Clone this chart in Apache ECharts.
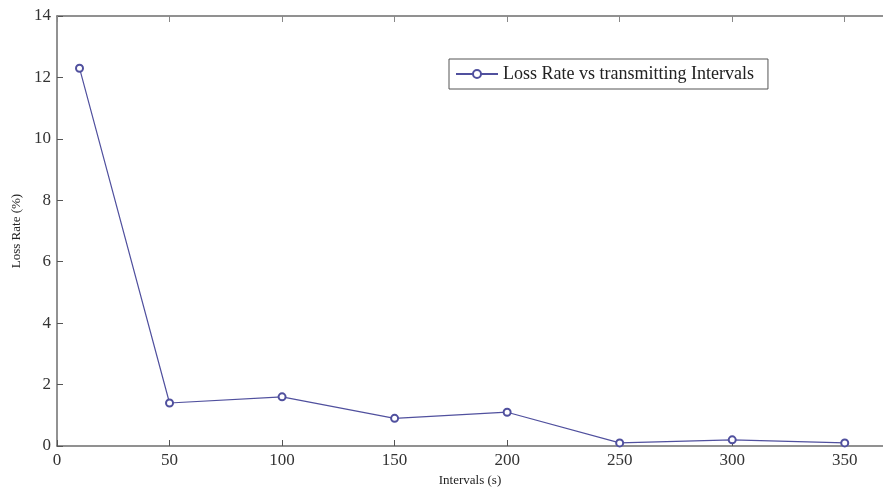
<!DOCTYPE html>
<html>
<head>
<meta charset="utf-8">
<script src="https://cdn.jsdelivr.net/npm/echarts@6/dist/echarts.min.js"></script>
<style>
  html, body { margin: 0; padding: 0; background: #fff; }
  #chart { width: 883px; height: 490px; }
</style>
</head>
<body>
<div id="chart"></div>
<script>
const intervals = [10, 50, 100, 150, 200, 250, 300, 350]
const lossRate = [12.3, 1.4, 1.6, 0.9, 1.1, 0.1, 0.2, 0.1]
const seriesName = "Loss Rate vs transmitting Intervals"

const font = "'Liberation Serif', 'DejaVu Serif', serif"
const axisGrey = "#6e6e6e"
const lineBlue = "#50509e"

let points = intervals.map((x, i) => [x, lossRate[i]])

// the picture is cut off on the right, around x = 367
let xMax = 367
let tickFmt = v => (v % 50 === 0 ? String(v) : "")

let myChart = echarts.init(document.getElementById("chart"))
let option = {
    animation: false,
    grid: {
        left: 57,
        top: 16,
        right: 0,
        bottom: 44,
        outerBoundsMode: "none"
    },
    legend: {
        left: 449,
        top: 59,
        data: [seriesName],
        itemWidth: 42,
        itemHeight: 10,
        itemGap: 4,
        padding: [6, 14, 6, 6],
        borderColor: "#555",
        borderWidth: 1,
        textStyle: { fontFamily: font, fontSize: 18, color: "#222" }
    },
    xAxis: [{
        type: "value",
        min: 0,
        max: xMax,
        interval: 50,
        name: "Intervals (s)",
        nameLocation: "middle",
        nameGap: 28,
        nameTextStyle: { fontFamily: font, fontSize: 13, color: "#222" },
        axisLine: { lineStyle: { color: axisGrey, width: 1.5 } },
        axisTick: { inside: true, length: 6, lineStyle: { color: "#555" } },
        axisLabel: { fontFamily: font, fontSize: 17, color: "#333", margin: 6, formatter: tickFmt },
        splitLine: { show: false }
    }, {
        type: "value",
        position: "top",
        min: 0,
        max: xMax,
        interval: 50,
        axisLine: { lineStyle: { color: axisGrey, width: 1.5 } },
        axisTick: { inside: true, length: 6, lineStyle: { color: "#888" } },
        axisLabel: { show: false },
        splitLine: { show: false }
    }],
    yAxis: {
        type: "value",
        min: 0,
        max: 14,
        interval: 2,
        name: "Loss Rate (%)",
        nameLocation: "middle",
        nameGap: 33,
        nameTextStyle: { fontFamily: font, fontSize: 13, color: "#222" },
        axisLine: { lineStyle: { color: axisGrey, width: 1.5 } },
        axisTick: { inside: true, length: 6, lineStyle: { color: "#555" } },
        axisLabel: { fontFamily: font, fontSize: 17, color: "#333", margin: 6 },
        splitLine: { show: false }
    },
    series: [{
        name: seriesName,
        type: "line",
        data: points,
        symbol: "emptyCircle",
        symbolSize: 7,
        lineStyle: { color: lineBlue, width: 1.2 },
        itemStyle: { color: lineBlue, borderWidth: 1.1 }
    }]
}
myChart.setOption(option)
</script>
</body>
</html>
